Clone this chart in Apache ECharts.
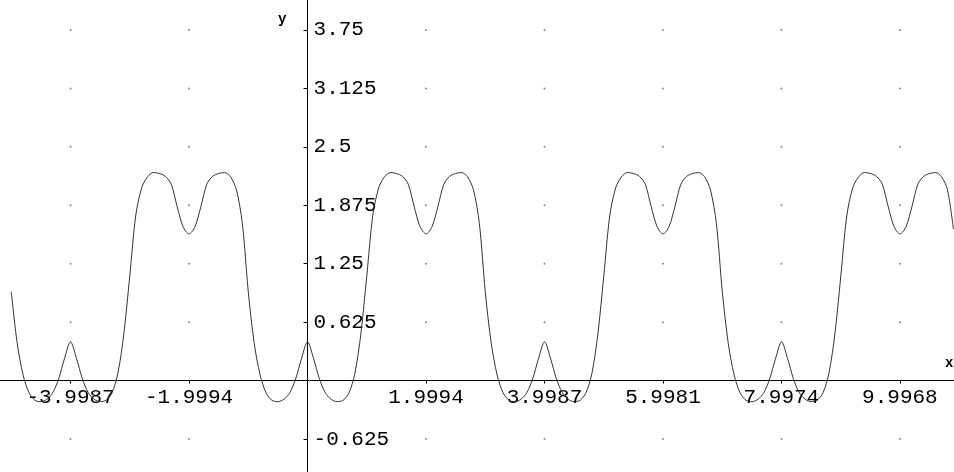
<!DOCTYPE html>
<html>
<head>
<meta charset="utf-8">
<script src="https://cdn.jsdelivr.net/npm/echarts@6/dist/echarts.min.js"></script>
<style>
  html, body { margin: 0; padding: 0; background: #fff; }
  #chart { width: 954px; height: 472px; }
</style>
</head>
<body>
<div id="chart"></div>
<script>
  // curve samples
  var xs = [
    -5.0, -4.9, -4.8, -4.7, -4.6, -4.5, -4.4, -4.3, -4.2, -4.1,
    -4.0, -3.9, -3.8, -3.7, -3.6, -3.5, -3.4, -3.3, -3.2, -3.1,
    -3.0, -2.9, -2.8, -2.7, -2.6, -2.5, -2.4, -2.3, -2.2, -2.1,
    -2.0, -1.9, -1.8, -1.7, -1.6, -1.5, -1.4, -1.3, -1.2, -1.1,
    -1.0, -0.9, -0.8, -0.7, -0.6, -0.5, -0.4, -0.3, -0.2, -0.1,
    0.0, 0.1, 0.2, 0.3, 0.4, 0.5, 0.6, 0.7, 0.8, 0.9,
    1.0, 1.1, 1.2, 1.3, 1.4, 1.5, 1.6, 1.7, 1.8, 1.9,
    2.0, 2.1, 2.2, 2.3, 2.4, 2.5, 2.6, 2.7, 2.8, 2.9,
    3.0, 3.1, 3.2, 3.3, 3.4, 3.5, 3.6, 3.7, 3.8, 3.9,
    4.0, 4.1, 4.2, 4.3, 4.4, 4.5, 4.6, 4.7, 4.8, 4.9,
    5.0, 5.1, 5.2, 5.3, 5.4, 5.5, 5.6, 5.7, 5.8, 5.9,
    6.0, 6.1, 6.2, 6.3, 6.4, 6.5, 6.6, 6.7, 6.8, 6.9,
    7.0, 7.1, 7.2, 7.3, 7.4, 7.5, 7.6, 7.7, 7.8, 7.9,
    8.0, 8.1, 8.2, 8.3, 8.4, 8.5, 8.6, 8.7, 8.8, 8.9,
    9.0, 9.1, 9.2, 9.3, 9.4, 9.5, 9.6, 9.7, 9.8, 9.9,
    10.0, 10.1, 10.2, 10.3, 10.4, 10.5, 10.6, 10.7, 10.8, 10.9
  ];
  var ys = [
    0.95, 0.4, 0.06, -0.13, -0.21, -0.225, -0.2, -0.13, 0.02, 0.24,
    0.415, 0.24, 0.02, -0.13, -0.2, -0.225, -0.21, -0.13, 0.08, 0.5,
    1.12, 1.76, 2.06, 2.18, 2.225, 2.215, 2.185, 2.1, 1.86, 1.645,
    1.569, 1.645, 1.86, 2.1, 2.185, 2.215, 2.225, 2.18, 2.04, 1.68,
    0.95, 0.4, 0.06, -0.13, -0.21, -0.225, -0.2, -0.13, 0.02, 0.24,
    0.415, 0.24, 0.02, -0.13, -0.2, -0.225, -0.21, -0.13, 0.08, 0.5,
    1.12, 1.76, 2.06, 2.18, 2.225, 2.215, 2.185, 2.1, 1.86, 1.645,
    1.569, 1.645, 1.86, 2.1, 2.185, 2.215, 2.225, 2.18, 2.04, 1.68,
    0.95, 0.4, 0.06, -0.13, -0.21, -0.225, -0.2, -0.13, 0.02, 0.24,
    0.415, 0.24, 0.02, -0.13, -0.2, -0.225, -0.21, -0.13, 0.08, 0.5,
    1.12, 1.76, 2.06, 2.18, 2.225, 2.215, 2.185, 2.1, 1.86, 1.645,
    1.569, 1.645, 1.86, 2.1, 2.185, 2.215, 2.225, 2.18, 2.04, 1.68,
    0.95, 0.4, 0.06, -0.13, -0.21, -0.225, -0.2, -0.13, 0.02, 0.24,
    0.415, 0.24, 0.02, -0.13, -0.2, -0.225, -0.21, -0.13, 0.08, 0.5,
    1.12, 1.76, 2.06, 2.18, 2.225, 2.215, 2.185, 2.1, 1.86, 1.645,
    1.569, 1.645, 1.86, 2.1, 2.185, 2.215, 2.225, 2.18, 2.04, 1.62
  ];

  // ticks
  var xTicks = [-3.9987, -1.9994, 1.9994, 3.9987, 5.9981, 7.9974, 9.9968];
  var xTickLabels = ['-3.9987', '-1.9994', '1.9994', '3.9987', '5.9981', '7.9974', '9.9968'];
  var yTicks = [-0.625, 0.625, 1.25, 1.875, 2.5, 3.125, 3.75];
  var yTickLabels = ['-0.625', '0.625', '1.25', '1.875', '2.5', '3.125', '3.75'];

  var xMin = -5.19, xMax = 10.91
  var yMin = -0.977, yMax = 4.07
  var W = 954, H = 472

  // move the axes onto the origin (labels follow with offset)
  var yAxisOffset = -(0 - xMin) / (xMax - xMin) * W
  var xAxisOffset = -(0 - yMin) / (yMax - yMin) * H

  var labelFont = {fontFamily: 'Liberation Mono', fontSize: 21, color: '#000'};

  var curve = xs.map(function (x, i) { return [x, ys[i]] })
  var dots = []
  xTicks.forEach(function (x) {
    yTicks.forEach(function (y) { dots.push([x, y]) })
  })

  var chart = echarts.init(document.getElementById('chart'))
  chart.setOption({
    animation: false,
    backgroundColor: '#fff',
    grid: {left: 0, right: 0, top: 0, bottom: 0, containLabel: false, outerBoundsMode: 'none'},
    xAxis: {
      type: 'value',
      position: 'bottom',
      offset: xAxisOffset,
      min: xMin,
      max: xMax,
      splitLine: {show: false},
      axisLine: {onZero: false, lineStyle: {color: '#000', width: 1}},
      axisTick: {customValues: xTicks, length: 3, lineStyle: {color: '#000'}},
      axisLabel: Object.assign({
        customValues: xTicks,
        margin: 6,
        hideOverlap: false,
        formatter: function (v) {
          var i = xTicks.indexOf(v)
          return i >= 0 ? xTickLabels[i] : ''
        }
      }, labelFont)
    },
    yAxis: {
      type: 'value',
      position: 'left',
      offset: yAxisOffset,
      min: yMin,
      max: yMax,
      splitLine: {show: false},
      axisLine: {onZero: false, lineStyle: {color: '#000', width: 1}},
      axisTick: {customValues: yTicks, length: 4, inside: false, lineStyle: {color: '#000'}},
      axisLabel: Object.assign({
        customValues: yTicks,
        inside: true,
        margin: 6,
        formatter: function (v) {
          var i = yTicks.indexOf(v)
          return i >= 0 ? yTickLabels[i] : ''
        }
      }, labelFont)
    },
    graphic: [
      {type: 'text', x: 278, y: 12, style: {text: 'y', font: 'bold 14px Liberation Mono', fill: '#000'}},
      {type: 'text', x: 945, y: 356, style: {text: 'x', font: 'bold 14px Liberation Mono', fill: '#000'}}
    ],
    series: [
      {
        type: 'scatter',
        data: dots,
        symbolSize: 2,
        silent: true,
        itemStyle: {color: '#666'}
      },
      {
        type: 'line',
        data: curve,
        showSymbol: false,
        smooth: 0.3,
        silent: true,
        lineStyle: {color: '#333', width: 1}
      }
    ]
  })
</script>
</body>
</html>
